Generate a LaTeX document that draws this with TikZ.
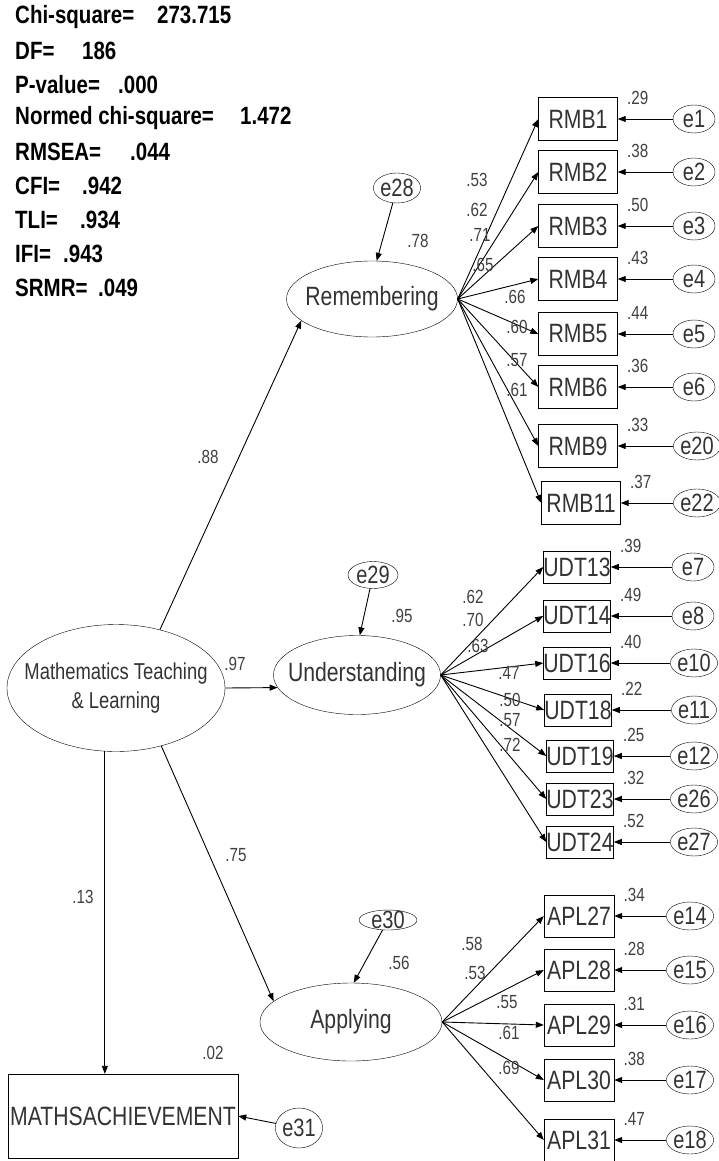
\documentclass[tikz,border=0pt]{standalone}
\usepackage{fontspec}
\setmainfont{Liberation Sans}[FakeStretch=0.8]
\newfontfamily\statfont{Liberation Sans}[FakeStretch=0.82]
\usetikzlibrary{arrows.meta}
\usetikzlibrary{shapes.geometric}
% indicator box, its error term and the squared multiple correlation
\newcommand{\indic}[8]{%
	\node[#1] (#2) at (#4,#5) {#3};
	\node[err] (#6) at (#7,#5) {#6};
	\node[val] (r#2) at ([shift={(20,-21)}]#2.east) {#8};
	\draw[reg] (#6) -- (#2);
}

\begin{document}
\begin{tikzpicture}[x=1pt, y=-1pt,
	lat/.style={ellipse, draw, inner xsep=-20pt, inner ysep=0pt, text=black!80, font=\fontsize{26.5}{29}\selectfont},
	obs/.style={rectangle, draw, inner sep=0pt, text=black!80, font=\fontsize{26.5}{28}\selectfont},
	rmb/.style={obs, minimum width=79pt, minimum height=43pt},
	udt/.style={obs, minimum width=67pt, minimum height=32pt},
	apl/.style={obs, minimum width=70pt, minimum height=42pt},
	err/.style={ellipse, draw, inner sep=0pt, minimum width=42pt, minimum height=28pt, text=black!80, font=\fontsize{25}{27}\selectfont},
	val/.style={inner sep=0pt, text=black!75, font=\fontsize{19}{21}\selectfont},
	stat/.style={anchor=west, inner sep=0pt, font=\statfont\bfseries\fontsize{25}{28}\selectfont},
	reg/.style={-{Triangle[length=8pt,width=6pt]}, line width=0.9pt}]
	\useasboundingbox (0,0) rectangle (718,1161);
	% fit indices
	\node[stat] (chi) at (15,17) {\makebox[142pt][l]{Chi-square=}273.715};
	\node[stat] (df) at (15,50.8) {\makebox[67pt][l]{DF=}186};
	\node[stat] (pval) at (15,84.6) {\makebox[103pt][l]{P-value=}.000};
	\node[stat] (nchi) at (15,118.4) {\makebox[225pt][l]{Normed chi-square=}1.472};
	\node[stat] (rmsea) at (15,152.2) {\makebox[115pt][l]{RMSEA=}.044};
	\node[stat] (cfi) at (15,186) {\makebox[67pt][l]{CFI=}.942};
	\node[stat] (tli) at (15,219.8) {\makebox[65pt][l]{TLI=}.934};
	\node[stat] (ifi) at (15,253.6) {\makebox[48pt][l]{IFI=}.943};
	\node[stat] (srmr) at (15,287.4) {\makebox[83pt][l]{SRMR=}.049};
	
	% latent variables
	\node[lat, minimum width=218pt, minimum height=127pt, align=center, font=\fontsize{23}{29}\selectfont] (mtl) at (116,688) {Mathematics Teaching\\\& Learning};
	\node[lat, minimum width=171pt, minimum height=76pt] (rem) at (372,299) {Remembering};
	\node[lat, minimum width=167pt, minimum height=79pt] (und) at (357,675) {Understanding};
	\node[lat, minimum width=182pt, minimum height=78pt] (app) at (351,1022) {Applying};
	\node[obs, minimum width=230pt, minimum height=84pt] (ach) at (123,1116) {MATHSACHIEVEMENT};
	
	% disturbances
	\node[err, minimum width=40pt, minimum height=30pt] (e28) at (397,188) {e28};
	\node[err, minimum width=50pt, minimum height=27pt] (e29) at (373,575) {e29};
	\node[err, minimum width=58pt, minimum height=20pt, inner ysep=-3pt] (e30) at (388,920) {e30};
	\node[err, minimum width=44pt, minimum height=40pt] (e31) at (299,1128) {e31};
	\draw[reg] (e28) -- (rem.83);
	\draw[reg] (e29) -- (und.86);
	\draw[reg] (e30) -- (app.86);
	\draw[reg] (e31) -- (ach.east);
	
	% structural paths
	\draw[reg] (mtl.53) -- (rem.197);
	\draw[reg] (mtl.east) -- (und.189);
	\draw[reg] (mtl.308) -- (app.165);
	\draw[reg] (mtl.260) -- (mtl.260 |- ach.north);
	\node[val] (b88) at (208,457) {.88};
	\node[val] (b97) at (235,664) {.97};
	\node[val] (b75) at (236,855) {.75};
	\node[val] (b13) at (83,897) {.13};
	\node[val] (r78) at (418,241) {.78};
	\node[val] (r95) at (402,616) {.95};
	\node[val] (r56) at (399,963) {.56};
	\node[val] (r02) at (213,1053) {.02};
	
	% remembering items
	\indic{rmb}{rmb1}{RMB1}{578}{119}{e1}{694}{.29}
	\indic{rmb}{rmb2}{RMB2}{578}{172}{e2}{694}{.38}
	\indic{rmb}{rmb3}{RMB3}{578}{226}{e3}{694}{.50}
	\indic{rmb}{rmb4}{RMB4}{578}{279}{e4}{694}{.43}
	\indic{rmb}{rmb5}{RMB5}{578}{334}{e5}{694}{.44}
	\indic{rmb}{rmb6}{RMB6}{578}{387}{e6}{694}{.36}
	\indic{rmb}{rmb9}{RMB9}{578}{446}{e20}{697}{.33}
	\indic{rmb}{rmb11}{RMB11}{581}{503}{e22}{697}{.37}
	\foreach \i in {1,2,3,4,5,6,9,11}
		\draw[reg] (rem.east) -- (rmb\i.west);
	\node[val] (l1) at (477,180) {.53};
	\node[val] (l2) at (477,210) {.62};
	\node[val] (l3) at (480,235) {.71};
	\node[val] (l4) at (483,265) {.65};
	\node[val] (l5) at (515,297) {.66};
	\node[val] (l6) at (517,327) {.60};
	\node[val] (l9) at (517,360) {.57};
	\node[val] (l11) at (517,390) {.61};
	
	% understanding items
	\indic{udt}{udt13}{UDT13}{577}{567}{e7}{693}{.39}
	\indic{udt}{udt14}{UDT14}{577}{616}{e8}{693}{.49}
	\indic{udt}{udt16}{UDT16}{577}{663}{e10}{694}{.40}
	\indic{udt}{udt18}{UDT18}{578}{710}{e11}{694}{.22}
	\indic{udt}{udt19}{UDT19}{580}{756}{e12}{694}{.25}
	\indic{udt}{udt23}{UDT23}{580}{799}{e26}{694}{.32}
	\indic{udt}{udt24}{UDT24}{580}{842}{e27}{694}{.52}
	\foreach \i in {13,14,16,18,19,23,24}
		\draw[reg] (und.east) -- (udt\i.west);
	\node[val] (l13) at (473,597) {.62};
	\node[val] (l14) at (473,620) {.70};
	\node[val] (l16) at (478,646) {.63};
	\node[val] (l18) at (509,673) {.47};
	\node[val] (l19) at (510,700) {.50};
	\node[val] (l23) at (510,720) {.57};
	\node[val] (l24) at (510,745) {.72};
	
	% applying items
	\indic{apl}{apl27}{APL27}{579}{916}{e14}{690}{.34}
	\indic{apl}{apl28}{APL28}{579}{970}{e15}{690}{.28}
	\indic{apl}{apl29}{APL29}{579}{1025}{e16}{690}{.31}
	\indic{apl}{apl30}{APL30}{579}{1080}{e17}{690}{.38}
	\indic{apl}{apl31}{APL31}{579}{1140}{e18}{690}{.47}
	\foreach \i in {27,28,29,30,31}
		\draw[reg] (app.east) -- (apl\i.west);
	\node[val] (l27) at (472,944) {.58};
	\node[val] (l28) at (475,973) {.53};
	\node[val] (l29) at (507,1002) {.55};
	\node[val] (l30) at (509,1033) {.61};
	\node[val] (l31) at (509,1068) {.69};
\end{tikzpicture}
\end{document}
